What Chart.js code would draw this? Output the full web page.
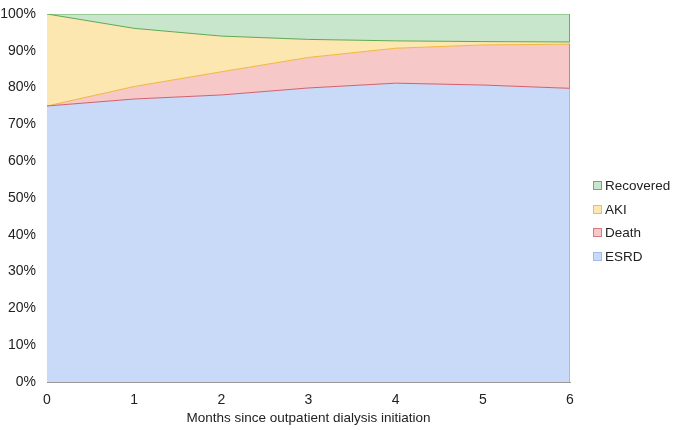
<!DOCTYPE html>
<html>
<head>
<meta charset="utf-8">
<script src="https://cdn.jsdelivr.net/npm/chart.js@4/dist/chart.umd.min.js"></script>
<style>
  html, body { margin: 0; padding: 0; background: #fff; }
  #wrap { width: 680px; height: 430px; position: relative; }
  #legend { position: absolute; left: 593px; top: 177px; font-family: "Liberation Sans", Arial, sans-serif; font-size: 13.5px; color: #222; }
  #legend div { height: 23.5px; line-height: 18px; white-space: nowrap; }
  #legend span.sw { display: inline-block; width: 7px; height: 7px; border: 1px solid; margin-right: 3px; vertical-align: 0px; }
</style>
</head>
<body>
<div id="wrap"><canvas id="c" width="680" height="430"></canvas><div id="legend"></div></div>
<script>
const months = [0, 1, 2, 3, 4, 5, 6];
const esrd = [75, 76.9, 78, 79.9, 81.2, 80.7, 79.8];
const death = [0, 3.4, 6.3, 8.3, 9.5, 10.9, 12.0];
const aki = [25, 15.8, 9.7, 4.9, 2.0, 0.9, 0.6];
const recovered = [0, 3.9, 6.0, 6.9, 7.3, 7.5, 7.6];

const tickFont = { family: "Liberation Sans, Arial, sans-serif", size: 14 };
const titleFont = { family: "Liberation Sans, Arial, sans-serif", size: 13.5 };

const edgePlugin = {
  id: 'edge',
  afterDatasetsDraw(chart) {
    const ctx = chart.ctx, xs = chart.scales.x, ys = chart.scales.y;
    const lastIdx = months.length - 1;
    const x = Math.round(xs.getPixelForValue(months[lastIdx])) - 0.5;
    let base = 0;
    chart.data.datasets.forEach(d => {
      const top = base + d.data[lastIdx];
      ctx.save();
      ctx.strokeStyle = d.edgeColor;
      ctx.lineWidth = 1;
      ctx.beginPath();
      ctx.moveTo(x, ys.getPixelForValue(base));
      ctx.lineTo(x, ys.getPixelForValue(top));
      ctx.stroke();
      ctx.restore();
      base = top;
    });
  }
};

const chart = new Chart(document.getElementById('c'), {
  type: 'line',
  data: {
    labels: months,
    datasets: [
      { label: 'ESRD', data: esrd, fill: 'origin', backgroundColor: '#c9daf8', borderColor: '#d2606e', edgeColor: '#9dbbee' },
      { label: 'Death', data: death, fill: '-1', backgroundColor: '#f6c8c8', borderColor: '#f0b83c', edgeColor: '#d97a80' },
      { label: 'AKI', data: aki, fill: '-1', backgroundColor: '#fde7b0', borderColor: '#5ea852', edgeColor: '#f0c040' },
      { label: 'Recovered', data: recovered, fill: '-1', backgroundColor: '#c8e6cb', borderColor: '#6aaf62', edgeColor: '#6aaf62' }
    ]
  },
  plugins: [edgePlugin],
  options: {
    responsive: false,
    animation: false,
    layout: { padding: { top: 0, right: 110, left: 0, bottom: 0 } },
    elements: { point: { radius: 0 }, line: { borderWidth: 1, tension: 0 } },
    plugins: {
      legend: { display: false },
      tooltip: { enabled: false }
    },
    scales: {
      x: {
        type: 'linear', min: 0, max: 6,
        ticks: { stepSize: 1, color: '#222', font: tickFont, padding: 10 },
        grid: { display: false, drawTicks: false },
        border: { color: '#999' },
        title: { display: true, text: 'Months since outpatient dialysis initiation', color: '#222', font: titleFont, padding: { top: 2, bottom: 4 } },
        afterFit(scale) { scale.height = 48; }
      },
      y: {
        stacked: true, min: 0, max: 100,
        ticks: { stepSize: 10, color: '#222', font: tickFont, padding: 11, callback: v => v + '%' },
        grid: { display: false, drawTicks: false },
        border: { color: '#999' },
        afterFit(scale) { scale.width = 47; scale.paddingTop = 14; scale.paddingBottom = 0; }
      }
    }
  }
});

const legendEl = document.getElementById('legend');
const legendBorders = ['#9dbbee', '#d97a80', '#f0c040', '#6aaf62'];
chart.data.datasets.map((d, i) => ({ d, b: legendBorders[i] })).reverse().forEach(({ d, b }) => {
  const row = document.createElement('div');
  const sw = document.createElement('span');
  sw.className = 'sw';
  sw.style.background = d.backgroundColor;
  sw.style.borderColor = b;
  row.appendChild(sw);
  row.appendChild(document.createTextNode(d.label));
  legendEl.appendChild(row);
});
</script>
</body>
</html>
